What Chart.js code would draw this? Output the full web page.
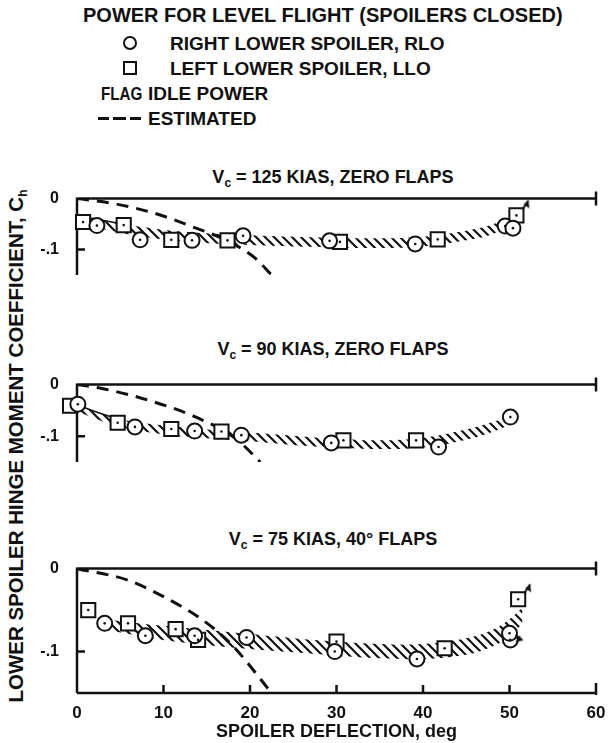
<!DOCTYPE html>
<html lang="en">
<head>
<meta charset="UTF-8" />
<title>Lower spoiler hinge moment coefficient</title>
<style>
  body { margin: 0; background: #fff; }
  #page { position: relative; width: 609px; height: 743px; overflow: hidden; background: #fff;
          font-family: "Liberation Sans", Arial, sans-serif; font-weight: bold; color: #111; }
  .t { position: absolute; white-space: nowrap; font-size: 19px; line-height: 1; transform: translateY(-50%); }
  .c { transform: translate(-50%, -50%); font-size: 18px; }
  .sym { position: absolute; box-sizing: border-box; border: 2px solid #111; width: 14px; height: 14px; }
  .dash { position: absolute; height: 3px; background: #111; width: 11px; }
  #ylab { position: absolute; left: 17px; top: 446px; transform: translate(-50%, -50%) rotate(-90deg);
          font-size: 20.5px; white-space: nowrap; line-height: 1; }
  sub { font-size: 12px; vertical-align: -4px; }
  canvas { position: absolute; left: 0; }
</style>
</head>
<body>
<div id="page">
  <div class="t" style="left:83px; top:15px; font-size:20px">POWER FOR LEVEL FLIGHT (SPOILERS CLOSED)</div>
  <div class="sym" style="left:123px; top:36px; border-radius:50%"></div>
  <div class="t" style="left:170px; top:43px">RIGHT LOWER SPOILER, RLO</div>
  <div class="sym" style="left:123px; top:61px"></div>
  <div class="t" style="left:170px; top:68px">LEFT LOWER SPOILER, LLO</div>
  <div class="t" style="left:101px; top:93px; transform: translateY(-50%) scaleX(0.8); transform-origin: left center">FLAG</div>
  <div class="t" style="left:148px; top:93px">IDLE POWER</div>
  <div class="dash" style="left:98px; top:117px"></div>
  <div class="dash" style="left:113px; top:117px; width:13px"></div>
  <div class="dash" style="left:130px; top:117px"></div>
  <div class="t" style="left:148px; top:118px">ESTIMATED</div>

  <div class="t c" id="title1" style="left:333px; top:178px"></div>
  <div class="t c" id="title2" style="left:333px; top:350px"></div>
  <div class="t c" id="title3" style="left:333px; top:540px"></div>

  <div id="ylab">LOWER SPOILER HINGE MOMENT COEFFICIENT, C<sub>h</sub></div>

  <canvas id="p1" width="609" height="158" style="top:179px"></canvas>
  <canvas id="p2" width="609" height="159" style="top:365px"></canvas>
  <canvas id="p3" width="609" height="194" style="top:549px"></canvas>
</div>

<script src="https://cdn.jsdelivr.net/npm/chart.js@4/dist/chart.umd.min.js"></script>
<script>
// axes
const xTicks = [0, 10, 20, 30, 40, 50, 60];
const yTicks = [0, -0.1];
const yTickLabels = ['0', '-.1'];
const xTitle = 'SPOILER DEFLECTION, deg';
const panelTitles = [
  'V<sub>c</sub> = 125 KIAS, ZERO FLAPS',
  'V<sub>c</sub> = 90 KIAS, ZERO FLAPS',
  'V<sub>c</sub> = 75 KIAS, 40&deg; FLAPS'
];

// Vc = 125 KIAS, zero flaps
const p1SqX = [0.7, 5.4, 10.9, 17.4, 30.4, 41.7, 50.8];
const p1SqY = [-0.046, -0.052, -0.081, -0.082, -0.085, -0.080, -0.033];
const p1CiX = [2.3, 7.3, 13.3, 19.2, 29.2, 39.1, 49.5, 50.4];
const p1CiY = [-0.053, -0.081, -0.082, -0.073, -0.083, -0.089, -0.054, -0.058];
const p1FlagX = [50.8];
const p1FlagY = [-0.033];
const p1BandX = [0, 5, 10, 15, 20, 25, 30, 35, 40, 45, 48, 51];
const p1BandTop = [-0.033, -0.049, -0.061, -0.068, -0.072, -0.075, -0.077, -0.078, -0.075, -0.063, -0.051, -0.029];
const p1BandBot = [-0.047, -0.067, -0.08, -0.087, -0.091, -0.094, -0.096, -0.097, -0.094, -0.082, -0.07, -0.047];
const p1EstX = [0, 4, 9, 13.6, 17.4, 20.6, 22.5];
const p1EstY = [0, -0.009, -0.029, -0.057, -0.083, -0.117, -0.15];

// Vc = 90 KIAS, zero flaps
const p2SqX = [-0.8, 4.7, 10.9, 16.7, 30.8, 39.2];
const p2SqY = [-0.041, -0.074, -0.086, -0.091, -0.108, -0.108];
const p2CiX = [0.1, 6.7, 13.6, 19.0, 29.4, 41.8, 50.1];
const p2CiY = [-0.038, -0.082, -0.090, -0.098, -0.113, -0.121, -0.063];
const p2FlagX = [];
const p2FlagY = [];
const p2BandX = [0, 5, 10, 15, 20, 25, 30, 35, 40, 45, 48, 50.5];
const p2BandTop = [-0.04, -0.067, -0.079, -0.087, -0.093, -0.099, -0.105, -0.108, -0.103, -0.087, -0.073, -0.059];
const p2BandBot = [-0.052, -0.082, -0.096, -0.104, -0.11, -0.117, -0.122, -0.125, -0.122, -0.107, -0.092, -0.075];
const p2EstX = [0, 3, 8.2, 13.6, 18.3, 21.2];
const p2EstY = [0, -0.008, -0.03, -0.062, -0.104, -0.15];

// Vc = 75 KIAS, 40 deg flaps
const p3SqX = [1.3, 5.9, 11.4, 14.0, 30.0, 42.5, 51.0];
const p3SqY = [-0.050, -0.066, -0.073, -0.086, -0.088, -0.096, -0.037];
const p3CiX = [3.2, 7.9, 13.6, 19.6, 29.8, 39.3, 50.1, 50.0];
const p3CiY = [-0.066, -0.081, -0.081, -0.083, -0.100, -0.109, -0.086, -0.078];
const p3FlagX = [51.0, 50.0];
const p3FlagY = [-0.037, -0.078];
const p3BandX = [3, 10, 15, 20, 25, 30, 35, 40, 45, 48, 50, 51.5];
const p3BandTop = [-0.061, -0.069, -0.074, -0.079, -0.084, -0.088, -0.091, -0.091, -0.084, -0.074, -0.061, -0.047];
const p3BandBot = [-0.073, -0.086, -0.092, -0.097, -0.101, -0.105, -0.108, -0.109, -0.104, -0.094, -0.082, -0.066];
const p3EstX = [0, 5.9, 10.2, 14.4, 17.9, 22.5];
const p3EstY = [0, -0.014, -0.035, -0.061, -0.092, -0.15];

const INK = '#111';
const FONT = '"Liberation Sans", Arial, sans-serif';

const zip = (xs, ys) => xs.map((x, i) => ({ x, y: ys[i] }));

function hatchPattern() {
  const c = document.createElement('canvas');
  c.width = 9; c.height = 9;
  const g = c.getContext('2d');
  g.strokeStyle = INK; g.lineWidth = 2.2;
  g.beginPath();
  g.moveTo(0, 0); g.lineTo(9, 9);
  g.moveTo(-3, 6); g.lineTo(3, 12);
  g.moveTo(6, -3); g.lineTo(12, 3);
  g.stroke();
  return g.createPattern(c, 'repeat');
}

// idle power flag, drawn as a point image centred on the data point
function flagImage(up) {
  const c = document.createElement('canvas');
  c.width = 40; c.height = 40;
  const g = c.getContext('2d');
  g.strokeStyle = INK; g.fillStyle = INK; g.lineWidth = 2;
  g.beginPath();
  if (up) {
    g.moveTo(26, 14); g.lineTo(32, 5); g.stroke();
    g.beginPath(); g.moveTo(32, 5); g.lineTo(33, 13); g.lineTo(27, 9); g.closePath(); g.fill();
  } else {
    g.moveTo(26, 22); g.lineTo(33, 27); g.stroke();
    g.beginPath(); g.moveTo(33, 27); g.lineTo(26, 29); g.lineTo(30, 22); g.closePath(); g.fill();
  }
  return c;
}

const framePlugin = {
  id: 'frame',
  beforeDatasetsDraw(chart, args, opts) {
    const { ctx, chartArea: a, scales: { x, y } } = chart;
    const y0 = y.getPixelForValue(0);
    ctx.save();
    ctx.strokeStyle = INK;
    ctx.lineWidth = 2.5;
    ctx.beginPath();
    ctx.moveTo(a.left, y0); ctx.lineTo(a.right, y0);
    ctx.moveTo(a.left, y0 - 1); ctx.lineTo(a.left, a.bottom);
    ctx.moveTo(a.right, y0 - 7); ctx.lineTo(a.right, y0 + 7);
    yTicks.forEach(v => {
      if (v === 0) return;
      const p = y.getPixelForValue(v);
      ctx.moveTo(a.left, p); ctx.lineTo(a.left + 8, p);
    });
    if (opts.bottom) {
      ctx.moveTo(a.left, a.bottom); ctx.lineTo(a.right, a.bottom);
      xTicks.forEach(v => {
        const p = x.getPixelForValue(v);
        ctx.moveTo(p, a.bottom); ctx.lineTo(p, a.bottom - 8);
      });
      ctx.moveTo(a.right, a.bottom - 10); ctx.lineTo(a.right, a.bottom + 2);
    }
    ctx.stroke();
    ctx.restore();
  }
};

function makePanel(id, p, showX) {
  const hatch = hatchPattern();
  const flags = p.flagX.map((fx, i) => flagImage(i === 0));
  const dots = zip(p.sqX, p.sqY).concat(zip(p.ciX, p.ciY));
  const datasets = [
    { // idle power flags
      data: zip(p.flagX, p.flagY), showLine: false, clip: false,
      pointStyle: flags, pointRadius: 10, order: 0
    },
    { // centre dots of the symbols
      data: dots, showLine: false, clip: false,
      pointStyle: 'circle', pointRadius: 1.3, pointBackgroundColor: INK, pointBorderWidth: 0, order: 1
    },
    { // right lower spoiler
      data: zip(p.ciX, p.ciY), showLine: false, clip: false,
      pointStyle: 'circle', pointRadius: 7.5, pointBackgroundColor: '#fff',
      pointBorderColor: INK, pointBorderWidth: 2, order: 2
    },
    { // left lower spoiler
      data: zip(p.sqX, p.sqY), showLine: false, clip: false,
      pointStyle: 'rect', pointRadius: 10, pointBackgroundColor: '#fff',
      pointBorderColor: INK, pointBorderWidth: 2, order: 3
    },
    { // estimated
      data: zip(p.estX, p.estY), borderColor: INK, borderWidth: 3, borderDash: [12, 8],
      pointRadius: 0, cubicInterpolationMode: 'monotone', order: 4
    },
    { // faired band, upper edge
      data: zip(p.bandX, p.bandTop), pointRadius: 0, tension: 0.4, borderWidth: 1.5,
      borderColor: 'rgba(0,0,0,0)',
      segment: { borderColor: c => c.p0DataIndex < p.edgeSegs ? INK : 'rgba(0,0,0,0)' },
      order: 6
    },
    { // faired band, lower edge, hatched towards the upper edge
      data: zip(p.bandX, p.bandBot), pointRadius: 0, tension: 0.4, borderWidth: 0,
      borderColor: 'rgba(0,0,0,0)', fill: '-1', backgroundColor: hatch, order: 5
    }
  ];

  new Chart(document.getElementById(id), {
    type: 'line',
    data: { datasets },
    plugins: [framePlugin],
    options: {
      responsive: false,
      animation: false,
      devicePixelRatio: 1,
      events: [],
      layout: { padding: { top: 12, right: 13, bottom: showX ? 0 : 12, left: 0 } },
      plugins: { legend: { display: false }, tooltip: { enabled: false }, frame: { bottom: showX } },
      scales: {
        x: {
          type: 'linear', min: 0, max: 60,
          display: showX,
          grid: { display: false }, border: { display: false },
          afterBuildTicks: s => { s.ticks = xTicks.map(v => ({ value: v })); },
          afterFit: s => { s.height = 50; },
          ticks: { color: INK, padding: 2, font: { family: FONT, size: 17, weight: 'bold' },
                   maxRotation: 0, autoSkip: false },
          title: { display: true, text: xTitle, color: INK, padding: { top: 0, bottom: 0 },
                   font: { family: FONT, size: 18, weight: 'bold' } }
        },
        y: {
          type: 'linear', min: -0.15, max: 0,
          grid: { display: false }, border: { display: false },
          afterBuildTicks: s => { s.ticks = yTicks.map(v => ({ value: v })); },
          afterFit: s => { s.width = 77; },
          ticks: { color: INK, padding: 10, font: { family: FONT, size: 16, weight: 'bold' },
                   callback: (v) => yTickLabels[yTicks.indexOf(v)] }
        }
      }
    }
  });
}

panelTitles.forEach((t, i) => { document.getElementById('title' + (i + 1)).innerHTML = t; });

makePanel('p1', { sqX: p1SqX, sqY: p1SqY, ciX: p1CiX, ciY: p1CiY, flagX: p1FlagX, flagY: p1FlagY,
  bandX: p1BandX, bandTop: p1BandTop, bandBot: p1BandBot, estX: p1EstX, estY: p1EstY, edgeSegs: 1 }, false);
makePanel('p2', { sqX: p2SqX, sqY: p2SqY, ciX: p2CiX, ciY: p2CiY, flagX: p2FlagX, flagY: p2FlagY,
  bandX: p2BandX, bandTop: p2BandTop, bandBot: p2BandBot, estX: p2EstX, estY: p2EstY, edgeSegs: 1 }, false);
makePanel('p3', { sqX: p3SqX, sqY: p3SqY, ciX: p3CiX, ciY: p3CiY, flagX: p3FlagX, flagY: p3FlagY,
  bandX: p3BandX, bandTop: p3BandTop, bandBot: p3BandBot, estX: p3EstX, estY: p3EstY, edgeSegs: 0 }, true);
</script>
</body>
</html>
